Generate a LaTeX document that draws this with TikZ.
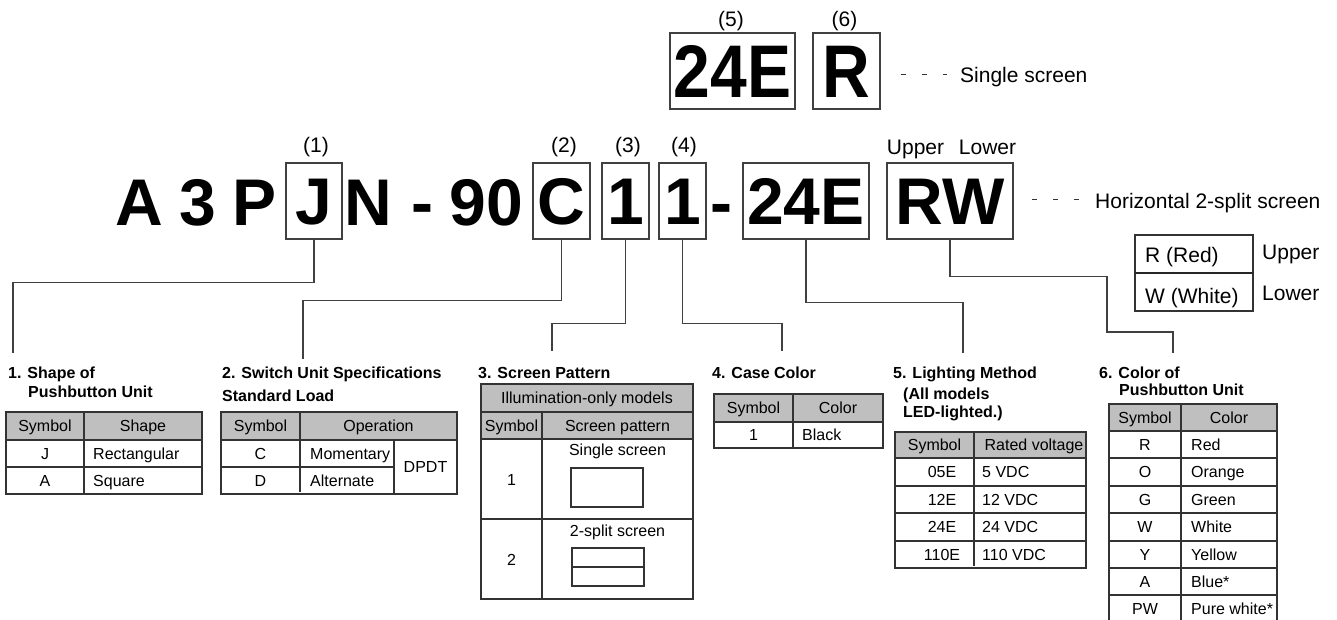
\documentclass[tikz,border=0pt]{standalone}
\usepackage{fontspec}
\setmainfont{Liberation Sans}
\begin{document}
\begin{tikzpicture}[x=1pt,y=-1pt,
  bigbox/.style={font=\fontsize{66}{66}\selectfont\bfseries, draw=black!75, line width=1.1pt, inner sep=0pt, minimum height=76pt, text height=47pt, text depth=0pt},
  bigtxt/.style={font=\fontsize{66}{66}\selectfont\bfseries, inner sep=0pt, anchor=base},
  lbl/.style={font=\fontsize{21}{25}\selectfont, inner sep=0pt},
  cell/.style={font=\fontsize{16}{19}\selectfont, inner sep=0pt, text height=11.5pt, text depth=0pt},
  lcell/.style={cell, anchor=west},
  head/.style={font=\fontsize{16}{19}\selectfont\bfseries, inner sep=0pt, anchor=base west},
  tl/.style={line width=1.1pt, draw=black!80},
  conn/.style={line width=1.1pt, draw=black!75},
  hdr/.style={fill=black!25},
  dsh/.style={line width=0.8pt, draw=black!80, dash pattern=on 5pt off 16pt}
]
\useasboundingbox (0,0) rectangle (1337,619);

% ---------- top single-screen code ----------
\node[bigbox, minimum width=125pt, text height=53pt] (T5b) at (732.5,71) {\scalebox{1}[1.13]{24E}};
\node[bigbox, minimum width=67pt, text height=53pt] (T6b) at (846.5,71) {\scalebox{1}[1.13]{R}};
\node[lbl, anchor=base] (L5) at (731,26) {(5)};
\node[lbl, anchor=base] (L6) at (844.5,26) {(6)};
\node[lbl, anchor=base west] (ss) at (960,82) {Single screen};
\draw[dsh] ([xshift=20pt,yshift=-3pt]T6b.east) -- ([xshift=-13pt]ss.west |- 0,74);

% ---------- main code ----------
\node[bigtxt] (cA) at (139,225) {A};
\node[bigtxt] (c3) at (197.5,225) {3};
\node[bigtxt] (cP) at (254.5,225) {P};
\node[bigbox, minimum width=56pt] (Jb) at (314,201) {J};
\node[bigtxt] (cN) at (368.5,225) {N};
\node[bigtxt] (cd1) at (422,225) {-};
\node[bigtxt] (c90) at (486.5,225) {90};
\node[bigbox, minimum width=57pt] (Cb) at (561.5,201) {C};
\node[bigbox, minimum width=47pt] (Ob) at (625.5,201) {1};
\node[bigbox, minimum width=47pt] (Tb) at (682.5,201) {1};
\node[bigtxt] (cd2) at (721,225) {-};
\node[bigbox, minimum width=126pt] (Eb) at (806,201) {24E};
\node[bigbox, minimum width=126pt] (RWb) at (950,201) {RW};

\node[lbl, anchor=base] (L1) at (316,152) {(1)};
\node[lbl, anchor=base] (L2) at (564,152) {(2)};
\node[lbl, anchor=base] (L3) at (628,152) {(3)};
\node[lbl, anchor=base] (L4) at (684,152) {(4)};
\node[lbl, anchor=base] (Lup) at (915.5,154) {Upper};
\node[lbl, anchor=base] (Llo) at (987.5,154) {Lower};

\node[lbl, anchor=base west] (hs) at (1095,208) {Horizontal 2-split screen};
\coordinate (dh) at (1032,199);
\draw[dsh] (dh) -- ([xshift=-15pt]hs.west |- dh);

% small R/W table
\draw[tl] (1135,235) rectangle (1253,311);
\draw[line width=2pt, draw=black!85] (1135,273) -- (1253,273);
\node[lbl, anchor=base west] (rr) at (1145,262) {R (Red)};
\node[lbl, anchor=base west] (ww) at (1145,303) {W (White)};
\node[lbl, anchor=base west] (ru) at (1262,259) {Upper};
\node[lbl, anchor=base west] (rl) at (1262,300) {Lower};

% ---------- connectors ----------
\coordinate (e1) at (13,353);
\coordinate (e2) at (303,359);
\coordinate (e3) at (552,351);
\coordinate (e4) at (782,351);
\coordinate (e5) at (963,353);
\coordinate (e6a) at (1107,332);
\coordinate (e6) at (1173,353);
\draw[conn] (Jb.south) -- ++(0,43) -| (e1);
\draw[conn] (Cb.south) -- ++(0,61) -| (e2);
\draw[conn] (Ob.south) -- ++(0,84) -| (e3);
\draw[conn] (Tb.south) -- ++(0,84) -| (e4);
\draw[conn] (Eb.south) -- ++(0,63) -| (e5);
\draw[conn] (RWb.south) -- ++(0,37) -| (e6a) -| (e6);

% ---------- table 1 ----------
\node[head] (h1a) at (8,378) {1. Shape of};
\node[head] (h1b) at (28,397) {Pushbutton Unit};
\fill[hdr] (6,412) rectangle (202,440);
\draw[tl] (6,412) rectangle (202,494);
\draw[tl] (6,440) -- (202,440) (6,467) -- (202,467) (84,412) -- (84,494);
\node[cell] (t1s) at (45,426) {Symbol};
\node[cell] (t1h) at (143,426) {Shape};
\node[cell] (t1j) at (45,453.5) {J};
\node[lcell] (t1r) at (93,453.5) {Rectangular};
\node[cell] (t1a) at (45,480.5) {A};
\node[lcell] (t1q) at (93,480.5) {Square};

% ---------- table 2 ----------
\node[head] (h2a) at (222,378) {2. Switch Unit Specifications};
\node[head] (h2b) at (222,401) {Standard Load};
\fill[hdr] (221,412) rectangle (457,440);
\draw[tl] (221,412) rectangle (457,494);
\draw[tl] (221,440) -- (457,440) (221,467) -- (394,467) (300,412) -- (300,492) (394,440) -- (394,494);
\node[cell] (t2s) at (260.5,426) {Symbol};
\node[cell] (t2o) at (378.5,426) {Operation};
\node[cell] (t2c) at (260.5,453.5) {C};
\node[lcell] (t2m) at (310,453.5) {Momentary};
\node[cell] (t2d) at (260.5,480.5) {D};
\node[lcell] (t2l) at (310,480.5) {Alternate};
\node[cell] (t2p) at (425.5,467) {DPDT};

% ---------- table 3 ----------
\node[head] (h3) at (478,378) {3. Screen Pattern};
\fill[hdr] (481,384) rectangle (693,439);
\draw[tl] (481,384) rectangle (693,599);
\draw[tl] (481,412) -- (693,412) (481,439) -- (693,439) (481,519) -- (693,519) (542,412) -- (542,599);
\node[cell] (t3i) at (587,398) {Illumination-only models};
\node[cell] (t3s) at (511.5,425.5) {Symbol};
\node[cell] (t3p) at (617.5,425.5) {Screen pattern};
\node[cell] (t3a) at (617.5,450) {Single screen};
\node[cell] (t31) at (511.5,480) {1};
\draw[tl] (571,468) rectangle (643,507);
\node[cell] (t3b) at (617.5,531) {2-split screen};
\node[cell] (t32) at (511.5,560) {2};
\draw[tl] (572,548) rectangle (644,586) (572,567) -- (644,567);

% ---------- table 4 ----------
\node[head] (h4) at (712,378) {4. Case Color};
\fill[hdr] (714,394) rectangle (883,422);
\draw[tl] (714,394) rectangle (883,448);
\draw[tl] (714,422) -- (883,422) (793,394) -- (793,448);
\node[cell] (t4s) at (753.5,408) {Symbol};
\node[cell] (t4c) at (838,408) {Color};
\node[cell] (t41) at (753.5,435) {1};
\node[lcell] (t4b) at (802,435) {Black};

% ---------- table 5 ----------
\node[head] (h5a) at (893,378) {5. Lighting Method};
\node[head] (h5b) at (903,399) {(All models};
\node[head] (h5c) at (903,417) {LED-lighted.)};
\fill[hdr] (895,432) rectangle (1086,458);
\draw[tl] (895,432) rectangle (1086,568);
\draw[tl] (895,458) -- (1086,458) (895,486) -- (1086,486) (895,513) -- (1086,513) (895,541) -- (1086,541) (974,432) -- (974,566);
\node[cell] (t5s) at (934.5,445) {Symbol};
\node[cell] (t5r) at (1034,445) {Rated voltage};
\node[cell] (t5a) at (942,472) {05E};
\node[lcell] (t5av) at (982,472) {5 VDC};
\node[cell] (t5b) at (942,499.5) {12E};
\node[lcell] (t5bv) at (982,499.5) {12 VDC};
\node[cell] (t5c) at (942,527) {24E};
\node[lcell] (t5cv) at (982,527) {24 VDC};
\node[cell] (t5d) at (942,555) {110E};
\node[lcell] (t5dv) at (982,555) {110 VDC};

% ---------- table 6 ----------
\node[head] (h6a) at (1099,378) {6. Color of};
\node[head] (h6b) at (1119,395) {Pushbutton Unit};
\fill[hdr] (1109,404) rectangle (1277,431);
\draw[tl] (1109,625) -- (1109,404) -- (1277,404) -- (1277,625);
\draw[tl] (1109,431) -- (1277,431) (1109,458) -- (1277,458) (1109,486) -- (1277,486) (1109,513) -- (1277,513) (1109,541) -- (1277,541) (1109,568) -- (1277,568) (1109,595) -- (1277,595) (1181,404) -- (1181,625);
\node[cell] (t6s) at (1145,417.5) {Symbol};
\node[cell] (t6c) at (1229,417.5) {Color};
\node[cell] (t6r) at (1145,444.5) {R};
\node[lcell] (t6rv) at (1191,444.5) {Red};
\node[cell] (t6o) at (1145,472) {O};
\node[lcell] (t6ov) at (1191,472) {Orange};
\node[cell] (t6g) at (1145,499.5) {G};
\node[lcell] (t6gv) at (1191,499.5) {Green};
\node[cell] (t6w) at (1145,527) {W};
\node[lcell] (t6wv) at (1191,527) {White};
\node[cell] (t6y) at (1145,554.5) {Y};
\node[lcell] (t6yv) at (1191,554.5) {Yellow};
\node[cell] (t6a) at (1145,581.5) {A};
\node[lcell] (t6av) at (1191,581.5) {Blue*};
\node[cell] (t6p) at (1145,609) {PW};
\node[lcell] (t6pv) at (1191,609) {Pure white*};
\end{tikzpicture}
\end{document}
